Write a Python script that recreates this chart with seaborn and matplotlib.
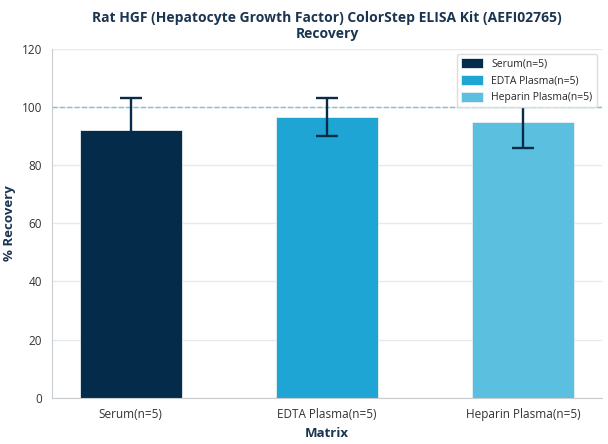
import pandas as pd
import matplotlib.pyplot as plt
import seaborn as sns
import numpy as np

# Recovery data
matrices = ['Serum(n=5)', 'EDTA Plasma(n=5)', 'Heparin Plasma(n=5)']
recovery = [92, 96.5, 95]
err = [11, 6.5, 9]
colors = ['#042b49', '#1fa5d3', '#5bbfe0']

df = pd.DataFrame({'Matrix': matrices, 'Recovery': recovery})

sns.set_style('white')
plt.rcParams['font.family'] = ['Open Sans', 'DejaVu Sans']

fig, ax = plt.subplots(figsize=(6.08, 4.44), dpi=100)
sns.barplot(x='Matrix', y='Recovery', hue='Matrix', data=df, palette=colors,
            dodge=False, width=0.52, legend=True, ax=ax, edgecolor='#e8eef2',
            linewidth=0.6, saturation=1)
ax.errorbar(range(len(matrices)), recovery, yerr=err, fmt='none',
            ecolor='#062c4a', elinewidth=1.7, capsize=8, capthick=1.7, zorder=3)

ax.axhline(100, color='#7cc4d6', linestyle='--', linewidth=1, zorder=1)
ax.set_ylim(0, 120)
ax.set_xlim(-0.4, 2.4)
ax.set_yticks(range(0, 121, 20))
ax.yaxis.grid(True, color='#e6eaee', linewidth=1)
ax.set_axisbelow(True)

ax.set_title('Rat HGF (Hepatocyte Growth Factor) ColorStep ELISA Kit (AEFI02765)\nRecovery',
             fontsize=10, fontweight='bold', color='#1b3550', pad=8)
ax.set_xlabel('Matrix', fontsize=9.5, fontweight='bold', color='#1b3550')
ax.set_ylabel('% Recovery', fontsize=9.5, fontweight='bold', color='#1b3550')
ax.tick_params(axis='both', labelsize=8.5, colors='#333333', length=4, color='#999999')
for s in ['top', 'right']:
    ax.spines[s].set_visible(False)
for s in ['left', 'bottom']:
    ax.spines[s].set_color('#c8cdd2')

leg = ax.legend(loc='upper right', fontsize=7.5, frameon=True, framealpha=1,
                edgecolor='#dddddd', handlelength=2.1, handleheight=1.1)
leg.set_zorder(10)

plt.subplots_adjust(left=0.086, right=0.99, top=0.89, bottom=0.104)
plt.savefig('out.png', dpi=100)
